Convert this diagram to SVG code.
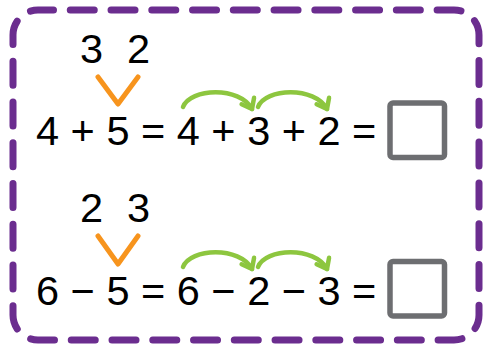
<svg xmlns="http://www.w3.org/2000/svg" width="484" height="345" viewBox="0 0 484 345">
  <style>
    .eq { font-family: "Liberation Sans", Arial, Helvetica, sans-serif; font-size: 41.5px; fill: #000; }
    .split { fill: none; stroke: #F7941D; stroke-width: 5; stroke-linecap: round; stroke-linejoin: round; }
    .jump { fill: none; stroke: #8DC63F; stroke-width: 4.5; stroke-linecap: round; marker-end: url(#chev); }
    .answer { fill: #fff; stroke: #6D6E71; stroke-width: 5.5; }
  </style>
  <defs>
    <marker id="chev" markerUnits="userSpaceOnUse" orient="auto" refX="0" refY="0" markerWidth="20" markerHeight="20" overflow="visible">
      <path d="M-9,-7 L0,0 L-9,7" fill="none" stroke="#8DC63F" stroke-width="4.5" stroke-linecap="round" stroke-linejoin="round"/>
    </marker>
  </defs>
  <rect id="border" x="13" y="10" width="466" height="330" rx="25" fill="none" stroke="#6B2D8F" stroke-width="7" stroke-linecap="round" stroke-dasharray="24 16.76" stroke-dashoffset="8.5"/>

  <g id="row1">
    <text class="eq" x="36" y="145">4 + 5 = 4 + 3 + 2 =</text>
    <text class="eq" x="80" y="63">3</text>
    <text class="eq" x="127" y="63">2</text>
    <path class="split" d="M98,77 L118,104 L138,77"/>
    <rect class="answer" x="390" y="103" width="54.5" height="54.5" rx="3"/>
  </g>

  <g id="row2">
    <text class="eq" x="36" y="305">6 − 5 = 6 − 2 − 3 =</text>
    <text class="eq" x="80" y="222">2</text>
    <text class="eq" x="127" y="222">3</text>
    <path class="split" d="M98,236 L118,264 L138,236"/>
    <rect class="answer" x="390" y="261.5" width="54.5" height="54.5" rx="3"/>
  </g>

  <g id="connectors">
    <path class="jump" d="M183,107 C190,88 240,86 252,109"/>
    <path class="jump" d="M258,107 C265,88 315,86 327,109"/>
    <path class="jump" d="M183,267 C190,248 240,246 252,269"/>
    <path class="jump" d="M258,267 C265,248 315,246 327,269"/>
  </g>
</svg>
